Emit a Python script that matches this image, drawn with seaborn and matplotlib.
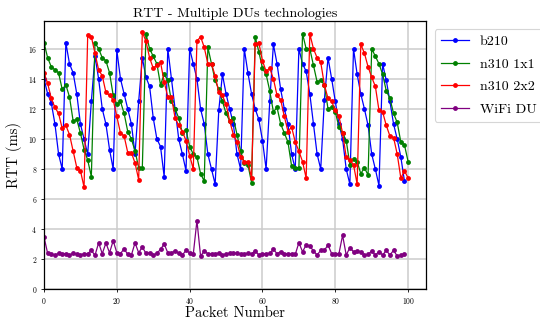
import matplotlib
matplotlib.use("Agg")
import matplotlib.pyplot as plt
import seaborn as sns
import numpy as np
import pandas as pd

b210 = [14.0, 13.0, 12.4, 11.0, 9.0, 8.0, 16.4, 15.0, 14.4, 13.0,
        11.0, 10.0, 9.0, 12.5, 15.5, 14.0, 12.0, 11.0, 9.3, 8.0,
        15.9, 14.0, 13.0, 12.0, 11.0, 9.0, 12.5, 15.4, 14.1, 13.5,
        11.4, 10.0, 9.5, 7.5, 16.0, 14.0, 12.0, 10.0, 9.0, 7.9,
        16.0, 15.0, 14.0, 12.0, 11.0, 9.0, 8.0, 7.0, 11.9, 14.3,
        13.0, 12.0, 11.0, 9.0, 8.0, 16.0, 14.4, 13.0, 12.0, 11.3,
        9.9, 8.0, 12.5, 16.3, 15.0, 13.3, 12.0, 11.0, 9.0, 8.0,
        16.0, 15.0, 14.5, 13.0, 11.0, 9.0, 8.0, 12.6, 15.4, 14.0,
        12.5, 11.0, 10.0, 8.0, 7.0, 16.0, 14.3, 13.0, 12.0, 10.9,
        9.0, 8.0, 6.9, 15.0, 13.9, 12.5, 11.0, 10.0, 8.8, 7.2]

n310_1x1 = [16.4, 15.4, 14.8, 14.6, 14.4, 13.3, 13.6, 12.8, 11.2, 11.3,
            10.4, 9.3, 8.6, 7.5, 16.4, 16.0, 15.4, 15.2, 14.4, 12.9,
            12.3, 12.5, 11.7, 10.5, 10.0, 9.2, 8.1, 8.1, 17.0, 16.0,
            15.5, 15.0, 13.6, 14.3, 13.9, 12.5, 12.0, 11.4, 10.4, 10.6,
            9.5, 9.0, 8.8, 7.7, 7.2, 16.1, 15.0, 13.9, 13.3, 12.5,
            11.7, 11.2, 11.4, 10.3, 9.2, 8.4, 8.3, 7.1, 16.8, 15.8,
            14.7, 14.3, 13.2, 11.8, 12.1, 11.0, 10.4, 9.8, 8.2, 8.1,
            8.1, 17.0, 16.0, 16.0, 14.9, 13.8, 13.9, 13.6, 12.0, 12.1,
            11.8, 10.8, 10.4, 9.9, 8.3, 8.7, 8.5, 7.7, 8.1, 7.6,
            16.0, 15.5, 15.0, 14.3, 13.2, 12.7, 11.7, 11.1, 9.8, 9.6,
            8.5]

n310_2x2 = [14.4, 13.7, 12.7, 12.1, 11.7, 10.7, 10.9, 10.3, 9.2, 8.1,
            7.9, 6.8, 16.9, 16.8, 15.7, 14.6, 14.2, 13.1, 12.9, 12.6,
            11.5, 10.4, 10.2, 9.1, 9.1, 8.4, 7.3, 17.1, 16.5, 15.4,
            14.7, 14.9, 15.1, 13.8, 12.8, 12.8, 11.4, 10.9, 10.5, 9.9,
            8.9, 8.0, 16.5, 16.8, 16.1, 15.0, 15.0, 14.2, 13.1, 12.9,
            12.3, 11.2, 10.3, 9.8, 8.8, 8.5, 8.5, 7.4, 16.3, 16.4,
            15.2, 14.5, 14.7, 14.0, 12.9, 12.6, 11.5, 10.5, 10.8, 9.8,
            9.2, 8.5, 7.4, 17.0, 16.0, 15.4, 15.1, 13.6, 12.7, 12.5,
            11.9, 11.5, 10.4, 8.8, 8.6, 8.3, 7.0, 16.3, 15.7, 14.8,
            14.1, 13.5, 11.9, 11.8, 10.9, 10.2, 10.1, 9.0, 7.4, 7.9,
            7.4]

wifi_du = [3.49, 2.40, 2.36, 2.29, 2.40, 2.38, 2.38, 2.29, 2.40, 2.36,
           2.29, 2.38, 2.38, 2.60, 2.27, 3.10, 2.38, 3.09, 2.44, 3.24,
           2.44, 2.38, 2.71, 2.33, 2.29, 3.10, 2.44, 2.82, 2.40, 2.44,
           2.29, 2.40, 2.67, 3.02, 2.44, 2.44, 2.56, 2.40, 2.29, 2.60,
           2.44, 2.36, 4.58, 2.22, 2.56, 2.38, 2.38, 2.38, 2.42, 2.27,
           2.38, 2.40, 2.40, 2.40, 2.38, 2.38, 2.40, 2.38, 2.56, 2.29,
           2.38, 2.38, 2.40, 2.67, 2.38, 2.51, 2.38, 2.38, 2.38, 2.33,
           3.11, 2.51, 2.96, 2.89, 2.56, 2.29, 2.60, 2.60, 2.96, 2.38,
           2.38, 2.38, 3.60, 2.29, 2.78, 2.51, 2.56, 2.51, 2.27, 2.33,
           2.56, 2.29, 2.51, 2.29, 2.60, 2.29, 2.60, 2.22, 2.29, 2.33]

series_names = ["b210", "n310 1x1", "n310 2x2", "WiFi DU"]
series_values = [b210, n310_1x1, n310_2x2, wifi_du]
series_colors = ["blue", "green", "red", "purple"]

x_ticks = [0, 20, 40, 60, 80, 100]
y_ticks = [0, 2, 4, 6, 8, 10, 12, 14, 16]

frames = []
for name, vals in zip(series_names, series_values):
    frames.append(pd.DataFrame({"packet": np.arange(len(vals)), "rtt": vals, "du": name}))
df = pd.concat(frames, ignore_index=True)

plt.rcParams["font.family"] = "serif"
plt.rcParams["font.serif"] = ["cmr10"]
plt.rcParams["mathtext.fontset"] = "cm"
plt.rcParams["axes.formatter.use_mathtext"] = True

fig = plt.figure(figsize=(5.4, 3.22), dpi=100)
ax = fig.add_axes([0.0815, 0.101, 0.708, 0.834])

sns.lineplot(data=df, x="packet", y="rtt", hue="du", hue_order=series_names,
             palette=series_colors, marker="o", markersize=3.5, markeredgewidth=0,
             linewidth=0.9, ax=ax, estimator=None, sort=False)

ax.set_xlim(0, 105)
ax.set_ylim(0, 17.85)
ax.set_xticks(x_ticks)
ax.set_yticks(y_ticks)
ax.tick_params(labelsize=5.5, length=2.5, width=0.6, pad=2.5)
ax.grid(True, color="#cccccc", linewidth=1.1)
ax.set_axisbelow(True)
for s in ax.spines.values():
    s.set_linewidth(0.9)
    s.set_color("black")

ax.set_title("RTT - Multiple DUs technologies", fontsize=10, pad=3)
ax.set_xlabel("Packet Number", fontsize=10.5, labelpad=0)
ax.set_ylabel("RTT (ms)", fontsize=10.5, labelpad=4)

leg = ax.legend(loc="upper left", bbox_to_anchor=(1.0, 1.0), fontsize=10.0,
                markerscale=1.0, frameon=True, borderaxespad=0.6,
                labelspacing=0.7, handletextpad=0.8, borderpad=0.45)
leg.get_frame().set_edgecolor("#cccccc")
leg.get_frame().set_linewidth(0.8)

fig.savefig("out.png", dpi=100)
